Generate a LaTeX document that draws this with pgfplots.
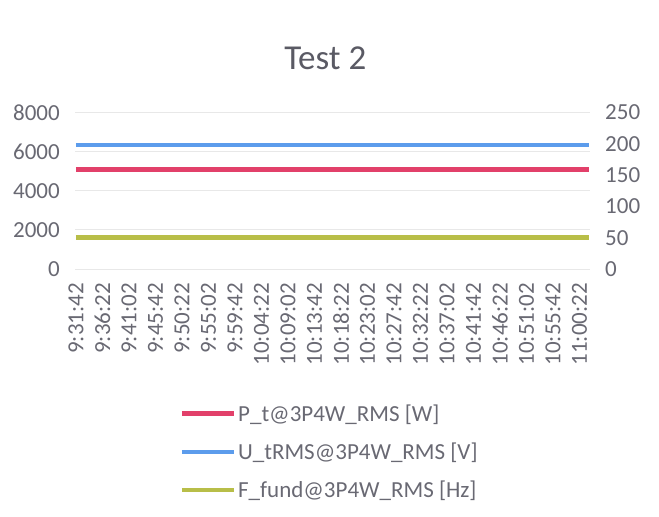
\documentclass[border=0pt]{standalone}
\usepackage{fontspec}
\setmainfont{Carlito}
\usepackage{pgfplots}
\pgfplotsset{compat=1.18}
\definecolor{cRed}{RGB}{226,64,106}
\definecolor{cBlue}{RGB}{92,156,236}
\definecolor{cGreen}{RGB}{184,190,72}
\definecolor{tickgray}{RGB}{105,105,115}
\definecolor{titlegray}{RGB}{90,90,100}
\pgfplotsset{
  common/.style={
    at={(75pt,248pt)}, anchor=south west,
    scale only axis, width=515pt, height=156.5pt,
    xmin=-0.5, xmax=271.5,
    axis line style={draw=none},
    major tick length=0pt,
    tick label style={font=\fontsize{23}{23}\selectfont, text=tickgray},
    /pgf/number format/assume math mode=true,
    /pgf/number format/1000 sep={},
    yticklabel shift=15pt,
    yticklabel style={inner sep=0pt},
  }
}
\begin{document}
\begin{tikzpicture}
\path[use as bounding box] (0,0) rectangle (659pt,517pt);
\begin{axis}[common,
  ymin=0, ymax=8000, ytick={0,2000,...,8000},
  ymajorgrids, grid style={line width=0.8pt, color=black!9},
  axis y line*=left,
  xtick={0,14,...,266},
  xticklabels={9:31:42,9:36:22,9:41:02,9:45:42,9:50:22,9:55:02,9:59:42,10:04:22,10:09:02,10:13:42,10:18:22,10:23:02,10:27:42,10:32:22,10:37:02,10:41:42,10:46:22,10:51:02,10:55:42,11:00:22},
  xticklabel style={rotate=90, anchor=east, inner sep=0pt},
  xticklabel shift=14pt,
  title={Test 2},
  title style={at={(0.486,1.31)}, anchor=center, font=\fontsize{35}{35}\selectfont, text=titlegray},
]
\addplot[cRed, line width=4.5pt] coordinates {(0,5080) (14,5080) (28,5080) (42,5080) (56,5080) (70,5080) (84,5080) (98,5080) (112,5080) (126,5080) (140,5080) (154,5080) (168,5080) (182,5080) (196,5080) (210,5080) (224,5080) (238,5080) (252,5080) (266,5080) (271,5080)};
\end{axis}
\begin{axis}[common,
  ymin=0, ymax=250, ytick={0,50,...,250},
  axis y line*=right,
  hide x axis,
  legend style={draw=none, fill=none, at={(0.197,-0.84)}, anchor=north west,
    font=\fontsize{23}{23}\selectfont, text=tickgray, row sep=16pt,
    cells={anchor=west}},
  legend image code/.code={\draw[#1] (0pt,0pt) -- (52pt,0pt);},
]
\addlegendimage{cRed, line width=4.5pt}
\addlegendentry{P\_t@3P4W\_RMS [W]}
\addplot[cBlue, line width=4.5pt] coordinates {(0,198) (14,198) (28,198) (42,198) (56,198) (70,198) (84,198) (98,198) (112,198) (126,198) (140,198) (154,198) (168,198) (182,198) (196,198) (210,198) (224,198) (238,198) (252,198) (266,198) (271,198)};
\addlegendentry{U\_tRMS@3P4W\_RMS [V]}
\addplot[cGreen, line width=4.5pt] coordinates {(0,50) (14,50) (28,50) (42,50) (56,50) (70,50) (84,50) (98,50) (112,50) (126,50) (140,50) (154,50) (168,50) (182,50) (196,50) (210,50) (224,50) (238,50) (252,50) (266,50) (271,50)};
\addlegendentry{F\_fund@3P4W\_RMS [Hz]}
\end{axis}
\end{tikzpicture}
\end{document}
